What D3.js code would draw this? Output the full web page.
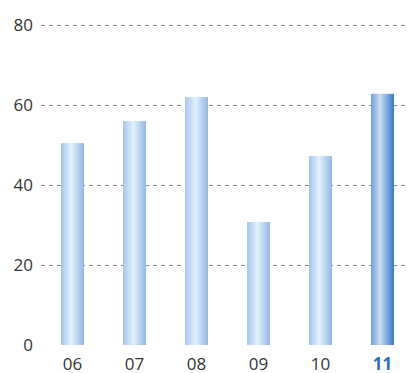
<!DOCTYPE html>
<html><head><meta charset="utf-8">
<script src="https://cdn.jsdelivr.net/npm/d3@7"></script>
<style>body{margin:0;background:#fff}svg{display:block}</style>
</head><body>
<svg id="c" width="407" height="373"></svg>
<script>
const categories = ["06","07","08","09","10","11"];
const values = [50.4, 55.9, 61.9, 30.7, 47.2, 62.7];
const yTicks = [0, 20, 40, 60, 80];
const highlight = "11";

const svg = d3.select("#c");
const x = d3.scaleBand().domain(categories).range([41.5, 413.5]).paddingInner(0.629).paddingOuter(0.3145);
const y = d3.scaleLinear().domain([0, 80]).range([345, 24.5]);

const defs = svg.append("defs");
function grad(id, stops){
  const g = defs.append("linearGradient").attr("id", id).attr("x1","0%").attr("x2","100%").attr("y1","0%").attr("y2","0%");
  stops.forEach(([o,c]) => g.append("stop").attr("offset", o).attr("stop-color", c));
}
grad("gLight", [["0%","#a6c6ec"],["45%","#e2f1fd"],["100%","#92b7e3"]]);
grad("gDark", [["0%","#6e9edb"],["40%","#c9def4"],["100%","#3677c2"]]);

// gridlines
svg.append("g").selectAll("line").data(yTicks.filter(d => d > 0)).join("line")
  .attr("x1", 41).attr("x2", 407)
  .attr("y1", d => Math.round(y(d)) + 0.5).attr("y2", d => Math.round(y(d)) + 0.5)
  .attr("stroke", "#8a8a8a").attr("stroke-width", 1).attr("stroke-dasharray", "4,4");

// y labels
svg.append("g").selectAll("text").data(yTicks).join("text")
  .attr("x", 33).attr("y", d => y(d) + 6)
  .attr("text-anchor", "end")
  .attr("font-family", "'Open Sans', sans-serif").attr("font-size", 17).attr("fill", "#333")
  .text(d => d);

// bars
svg.append("g").selectAll("rect").data(categories).join("rect")
  .attr("x", d => x(d)).attr("width", x.bandwidth())
  .attr("y", (d,i) => y(values[i])).attr("height", (d,i) => y(0) - y(values[i]))
  .attr("fill", d => d === highlight ? "url(#gDark)" : "url(#gLight)");

// x labels
svg.append("g").selectAll("text").data(categories).join("text")
  .attr("x", d => x(d) + x.bandwidth()/2).attr("y", 370)
  .attr("text-anchor", "middle")
  .attr("font-family", "'Open Sans', sans-serif").attr("font-size", 17)
  .attr("font-weight", d => d === highlight ? "bold" : "normal")
  .attr("fill", d => d === highlight ? "#2f6fb8" : "#333")
  .text(d => d);
</script>
</body></html>
